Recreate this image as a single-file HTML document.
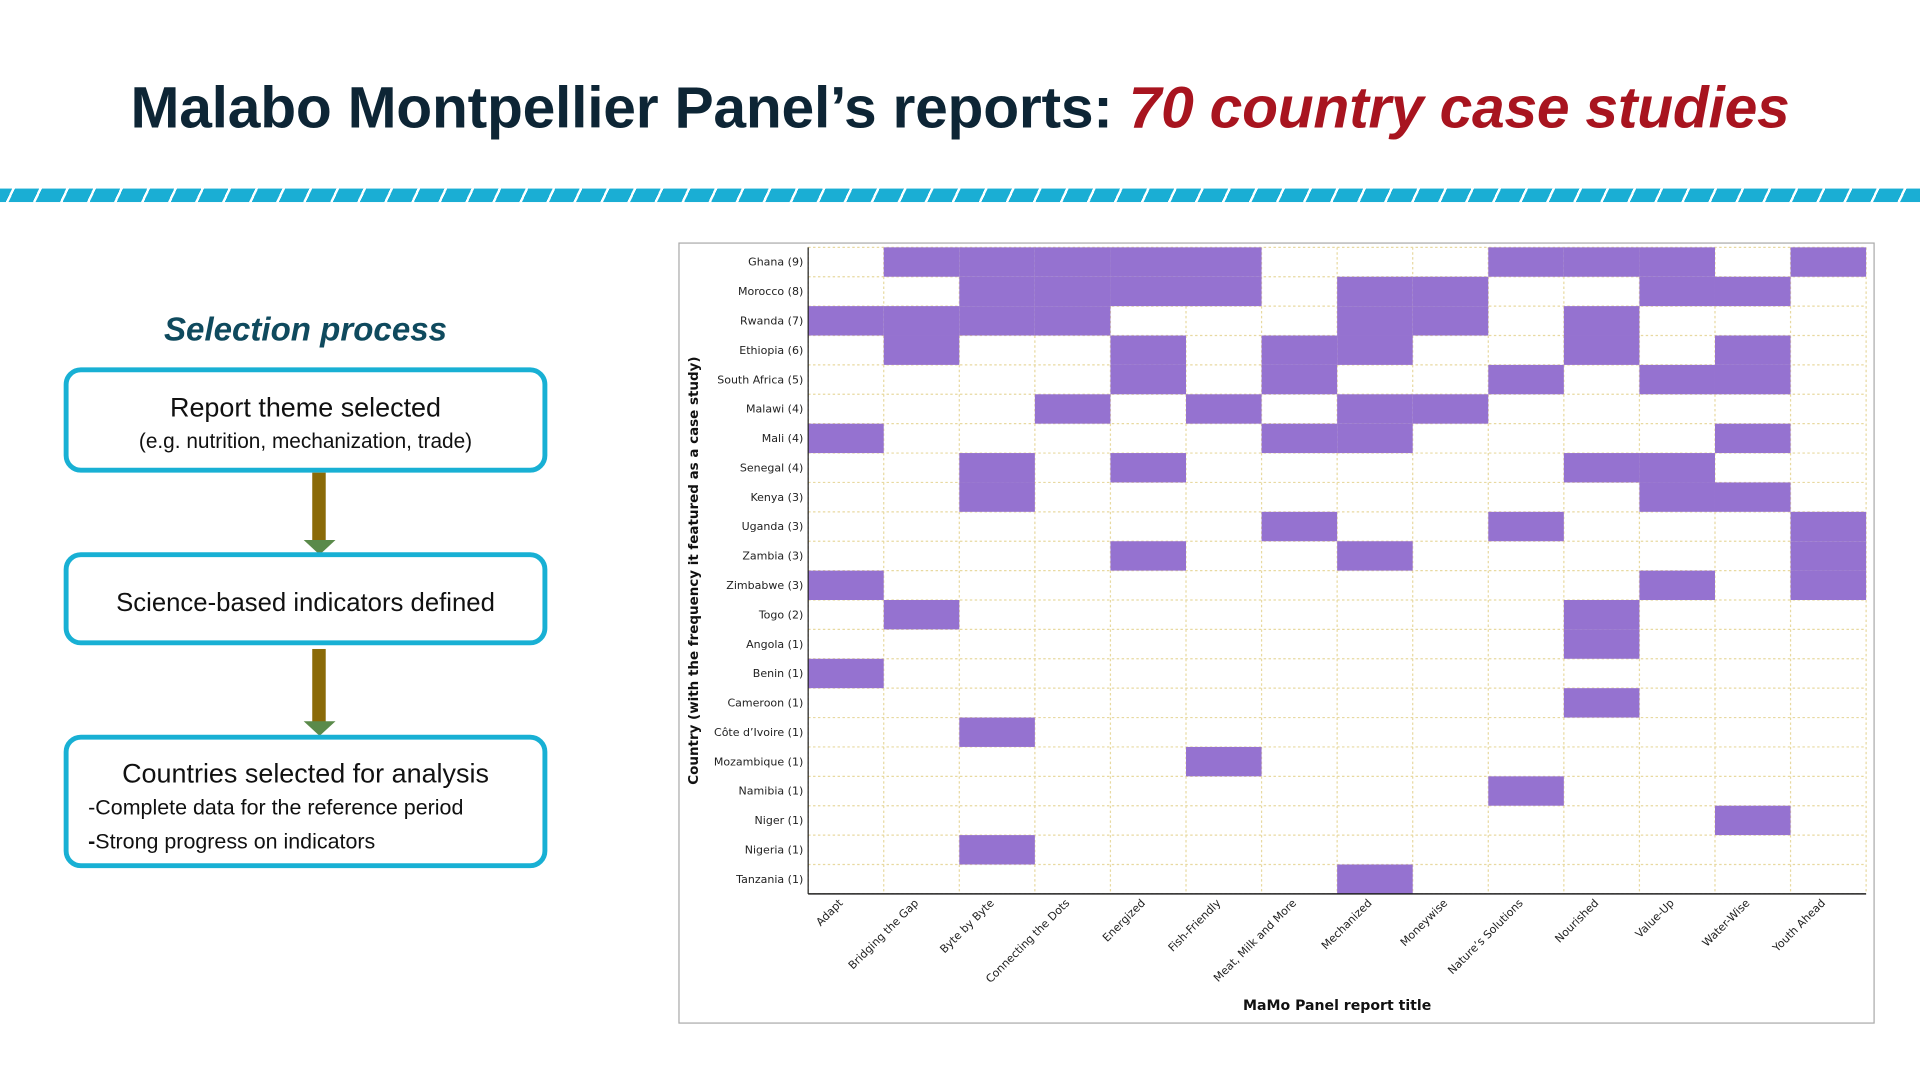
<!DOCTYPE html>
<html><head><meta charset="utf-8">
<style>
html,body{margin:0;padding:0;background:#fff;width:1920px;height:1080px;overflow:hidden;}
#wrap{position:absolute;left:0;top:0;width:1568px;height:882px;transform:scale(1.2244898);transform-origin:0 0;font-family:"Liberation Sans",sans-serif;}
.title{position:absolute;left:0;width:1568px;top:61px;text-align:center;font-weight:bold;font-size:48px;color:#0d2535;letter-spacing:-0.2px;}
.title i{color:#a8141f;}
.band{position:absolute;left:0;top:154px;width:1568px;height:11px;background:repeating-linear-gradient(115deg,#1aaed4 0 9px,#fff 9px 11px,#1aaed4 11px 20px);}
.sel{position:absolute;left:52px;width:395px;top:254px;text-align:center;font-style:italic;font-weight:bold;font-size:27px;color:#0f4a5e;}
.box{position:absolute;left:52px;width:387px;border:4px solid #18b0d4;border-radius:14px;background:#fff;color:#111;}
.arrow{position:absolute;left:255px;width:11px;background:#8a6a08;}
.head{position:absolute;left:248px;width:0;height:0;border-left:13px solid transparent;border-right:13px solid transparent;border-top:12px solid #5a8a4a;}
#chart{position:absolute;left:554px;top:198px;width:975px;height:636px;border:1.5px solid #aaa;}
</style></head><body>
<div id="wrap">
<div class="title">Malabo Montpellier Panel’s reports: <i>70 country case studies</i></div>
<div class="band"></div>
<div class="sel">Selection process</div>
<div class="box" style="top:300px;height:78px;">
 <div style="text-align:center;font-size:22px;margin-top:16px;">Report theme selected</div>
 <div style="text-align:center;font-size:17px;margin-top:5px;">(e.g. nutrition, mechanization, trade)</div>
</div>
<div class="arrow" style="top:386px;height:55px;"></div>
<div class="head" style="top:441px;"></div>
<div class="box" style="top:451px;height:68px;">
 <div style="text-align:center;font-size:21px;margin-top:26px;">Science-based indicators defined</div>
</div>
<div class="arrow" style="top:530px;height:60px;"></div>
<div class="head" style="top:589px;"></div>
<div class="box" style="top:600px;height:101px;">
 <div style="text-align:center;font-size:22px;margin-top:15px;">Countries selected for analysis</div>
 <div style="font-size:17.5px;margin:4px 0 0 16px;">-Complete data for the reference period</div>
 <div style="font-size:17.5px;margin:7px 0 0 16px;"><b>-</b>Strong progress on indicators</div>
</div>
<div id="chart">
<svg id="svg" width="975" height="636" xmlns="http://www.w3.org/2000/svg"></svg>
</div>
</div>
<script>
const reports=["Adapt","Bridging the Gap","Byte by Byte","Connecting the Dots","Energized","Fish-Friendly","Meat, Milk and More","Mechanized","Moneywise","Nature’s Solutions","Nourished","Value-Up","Water-Wise","Youth Ahead"];
const countries=["Ghana (9)","Morocco (8)","Rwanda (7)","Ethiopia (6)","South Africa (5)","Malawi (4)","Mali (4)","Senegal (4)","Kenya (3)","Uganda (3)","Zambia (3)","Zimbabwe (3)","Togo (2)","Angola (1)","Benin (1)","Cameroon (1)","Côte d’Ivoire (1)","Mozambique (1)","Namibia (1)","Niger (1)","Nigeria (1)","Tanzania (1)"];
const features=[[1,2,3,4,5,9,10,11,13],[2,3,4,5,7,8,11,12],[0,1,2,3,7,8,10],[1,4,6,7,10,12],[4,6,9,11,12],[3,5,7,8],[0,6,7,12],[2,4,10,11],[2,11,12],[6,9,13],[4,7,13],[0,11,13],[1,10],[10],[0],[10],[2],[5],[9],[12],[2],[7]];
const NS="http://www.w3.org/2000/svg";
const svg=document.getElementById('svg');
const L=105,T=3,W=864,H=528;
const cw=W/reports.length, rh=H/countries.length;
const xS=i=>L+i*cw, yS=j=>T+j*rh;
function mk(tag,attrs){const e=document.createElementNS(NS,tag);for(const k in attrs)e.setAttribute(k,attrs[k]);svg.appendChild(e);return e;}
for(let i=0;i<=reports.length;i++){const g=mk('line',{x1:xS(i),x2:xS(i),y1:T,y2:T+H,stroke:'#e8d9a0','stroke-width':1,'stroke-dasharray':'2,2'});

}
for(let j=0;j<=countries.length;j++){const g=mk('line',{x1:L,x2:L+W,y1:yS(j),y2:yS(j),stroke:'#e8d9a0','stroke-width':1,'stroke-dasharray':'2,2'});

}
features.forEach((row,j)=>row.forEach(i=>{const r=mk('rect',{x:xS(i),y:yS(j),width:cw,height:rh,fill:'#9572d0'});

}));
let a=mk('line',{x1:L,x2:L+W,y1:T+H,y2:T+H,stroke:'#222','stroke-width':1.2});


a=mk('line',{x1:L,x2:L,y1:T,y2:T+H,stroke:'#222','stroke-width':1});


countries.forEach((c,j)=>{const t=mk('text',{x:L-4,y:yS(j)+rh/2+3,'text-anchor':'end','font-size':9,'font-family':'DejaVu Sans, sans-serif',fill:'#222'});t.textContent=c;

});
reports.forEach((c,i)=>{const x=xS(i)+cw/2-2, y=T+H+8;const t=mk('text',{x:x,y:y,'text-anchor':'end','font-size':9,'font-family':'DejaVu Sans, sans-serif',fill:'#222',transform:`rotate(-45 ${x} ${y})`});t.textContent=c;

});
let t=mk('text',{x:L+W/2,y:626,'text-anchor':'middle','font-size':11.5,'font-weight':'bold','font-family':'DejaVu Sans, sans-serif',fill:'#111'});t.textContent='MaMo Panel report title';


t=mk('text',{x:15,y:T+H/2,'text-anchor':'middle','font-size':11,'font-weight':'bold','font-family':'DejaVu Sans, sans-serif',fill:'#111',transform:`rotate(-90 15 ${T+H/2})`});t.textContent='Country (with the frequency it featured as a case study)';


</script>
</body></html>
